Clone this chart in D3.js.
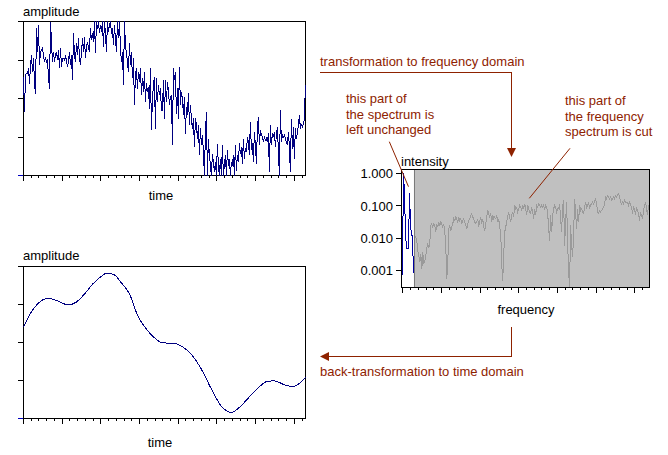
<!DOCTYPE html>
<html><head><meta charset="utf-8">
<script src="https://cdn.jsdelivr.net/npm/d3@7"></script>
<style>
body{margin:0;background:#fff;}
svg{display:block;font-family:"Liberation Sans",Arial,sans-serif;}
</style></head><body>
<svg id="c" width="668" height="455"></svg>
<script>
// ---------- data ----------
// noisy time signal (one sample per time step)
const noisyAmplitude = [
2.56,1.65,2.61,2.65,2.65,2.78,2.39,2.87,3.12,2.69,
3.04,2.39,2.13,3.82,3.21,3.92,2.87,3.21,3.25,3.30,
3.12,2.95,3.04,2.95,3.00,2.56,2.26,3.99,3.47,2.95,
3.21,2.95,3.12,3.21,3.00,3.25,2.78,3.30,2.82,3.04,
3.04,3.00,3.08,3.00,2.82,2.95,3.21,2.87,3.12,2.48,
3.69,3.12,2.95,3.43,3.12,3.56,3.04,2.87,3.21,3.56,
3.21,3.60,3.04,3.34,3.47,3.30,3.25,3.82,3.51,
3.69,3.47,4.00,3.17,4.00,3.82,4.00,3.69,3.90,3.73,
4.00,3.34,4.00,3.69,3.21,4.00,3.73,3.90,4.00,3.69,
3.82,3.39,3.90,3.56,3.21,4.00,3.56,4.00,3.30,2.95,
3.21,2.35,4.00,3.34,3.21,2.95,2.69,3.43,2.87,3.21,
2.52,3.04,1.83,2.61,2.78,2.26,2.69,2.43,2.78,2.09,
2.52,2.17,2.69,1.91,2.39,2.17,2.30,1.74,2.78,1.18,
2.00,2.35,2.56,1.22,2.52,1.91,2.35,2.09,2.26,1.70,
1.70,2.48,1.48,2.48,1.91,2.43,2.22,1.83,2.04,2.09,
0.79,2.78,2.48,2.69,1.61,2.26,1.48,2.82,1.83,2.17,
2.00,1.57,2.04,1.09,1.78,1.57,2.13,1.31,1.83,1.48,
1.22,1.48,0.74,1.48,1.31,0.96,1.31,0.53,1.22,0.79,
1.05,0.61,0.00,1.09,1.65,0.00,0.96,0.53,0.26,0.00,
0.57,0.35,0.09,0.35,0.00,0.83,0.26,0.00,0.44,0.00,
0.79,0.00,0.26,0.53,0.00,0.66,0.26,0.44,0.00,0.35,
0.26,0.53,0.00,0.79,0.13,0.53,0.35,0.83,0.57,0.74,
0.31,0.96,0.44,0.70,0.61,1.00,0.87,0.53,1.39,0.66,
0.83,0.35,1.13,0.79,0.31,1.22,1.52,0.79,1.18,1.05,
1.00,0.87,1.00,0.92,0.96,0.87,1.09,0.09,1.31,0.79,
1.09,1.00,1.13,0.74,1.05,1.26,0.66,0.00,1.70,0.87,
1.05,1.00,1.05,0.96,0.87,0.79,1.13,0.74,0.09,1.48,
0.70,1.26,0.44,1.22,0.96,1.09,1.31,1.57,1.22,1.31,
1.26,1.35,1.44,2.35
];
const timeStep = 1 / 38.7;
const timeMax = 7.29;

// smoothed (back-transformed) signal
const smoothTime = [0,0.20,0.37,0.59,0.71,0.89,1.15,1.36,1.58,1.79,2.01,2.16,2.35,2.52,2.74,2.95,3.17,3.39,3.60,3.90,4.12,4.33,4.59,4.85,5.11,5.37,5.62,5.84,6.06,6.31,6.49,6.74,6.96,7.13,7.29];
const smoothAmplitude = [2.40,2.80,3.02,3.15,3.15,3.09,2.99,3.06,3.28,3.54,3.74,3.83,3.78,3.58,3.28,2.71,2.36,2.12,1.99,1.98,1.88,1.70,1.31,0.79,0.33,0.16,0.33,0.57,0.80,0.98,0.99,0.89,0.84,0.92,1.08];

// spectrum: kept low-frequency part and cut part
const freqStep = 1 / 38.7;
const keptStart = -0.034;
const keptSpectrum = [0.00025,0.0019,1.0,0.245,0.015,0.0048,0.0048,0.0048,0.245,0.029,0.012,0.012,0.00085];
const cutStart = 0.31;
const cutSpectrum = [
0.012,0.0107,0.0085,0.0042,0.0029,0.0018,0.0033,0.0011,0.0037,0.0016,
0.0020,0.0029,0.0052,0.0068,0.0052,0.0068,0.025,0.028,0.022,0.028,
0.025,0.0155,0.028,0.022,0.032,0.025,0.032,0.028,0.022,0.028,
0.017,0.0059,0.00055,0.0016,0.0195,0.025,0.017,0.022,0.028,0.040,
0.035,0.045,0.040,0.032,0.045,0.035,0.040,0.028,0.035,0.040,
0.032,0.025,0.0195,0.028,0.035,0.040,0.051,0.058,0.045,0.040,
0.032,0.028,0.032,0.040,0.022,0.035,0.045,0.028,0.040,0.022,
0.017,0.028,0.045,0.072,0.058,0.045,0.058,0.032,0.051,0.040,
0.045,0.040,0.051,0.032,0.040,0.022,0.0155,0.0016,0.00049,0.0029,
0.0155,0.022,0.032,0.045,0.065,0.045,0.032,0.051,0.065,0.045,
0.105,0.081,0.091,0.065,0.081,0.105,0.091,0.072,0.105,0.081,0.117,
0.081,0.051,0.105,0.081,0.065,0.058,0.091,0.065,0.040,0.081,
0.051,0.105,0.091,0.117,0.105,0.091,0.105,0.091,0.105,0.081,
0.105,0.091,0.065,0.0195,0.0085,0.051,0.0155,0.051,0.081,0.105,
0.091,0.065,0.081,0.081,0.117,0.040,0.0155,0.091,0.148,0.0059,
0.032,0.132,0.0076,0.00089,0.0003,0.025,0.0059,0.0026,0.012,0.167,
0.065,0.0195,0.081,0.032,0.105,0.072,0.081,0.065,0.058,0.091,
0.132,0.091,0.105,0.132,0.081,0.105,0.117,0.132,0.105,0.148,
0.167,0.117,0.065,0.058,0.072,0.065,0.072,0.081,0.091,0.117,
0.19,0.167,0.21,0.19,0.167,0.19,0.148,0.167,0.19,0.167,
0.21,0.19,0.21,0.24,0.19,0.132,0.117,0.132,0.117,0.148,
0.132,0.132,0.132,0.105,0.132,0.117,0.081,0.065,0.091,0.081,
0.051,0.091,0.072,0.058,0.035,0.065,0.051,0.040,0.072,0.105,
0.132,0.081,0.051,0.105,0.105
];
const cutoffFreq = 0.30;
const freqMin = -0.034, freqMax = 6.382;
const intensityTicks = [1, 0.1, 0.01, 0.001];
const intensityTickLabels = ["1.000", "0.100", "0.010", "0.001"];

const texts = {
  amplitude: "amplitude", time: "time", intensity: "intensity", frequency: "frequency",
  forward: "transformation to frequency domain",
  back: "back-transformation to time domain",
  leftNote: ["this part of", "the spectrum is", "left unchanged"],
  rightNote: ["this part of", "the frequency", "spectrum is cut"]
};

// ---------- drawing ----------
const svg = d3.select("#c");
const NAVY = "#000080", NOTE = "#8e2200";

function timeAxes(g, x, y, L, R, T, B) {
  g.append("g").attr("transform", `translate(0,${B})`)
    .call(d3.axisBottom(x).tickValues(d3.range(0, 8, 1)).tickSize(6).tickFormat(""))
    .call(a => a.select(".domain").remove());
  g.append("g").attr("transform", `translate(0,${B})`)
    .call(d3.axisBottom(x).tickValues(d3.range(0.2, 7.25, 0.2).filter(v => Math.abs(v - Math.round(v)) > 0.01)).tickSize(3).tickFormat(""))
    .call(a => a.select(".domain").remove());
  const ya = g.append("g").attr("transform", `translate(${L},0)`)
    .call(d3.axisLeft(y).tickValues([0, 1, 2, 3, 4]).tickSize(5).tickFormat(""));
  ya.select(".domain").remove();
  ya.selectAll(".tick line").filter(d => d === 0).attr("stroke", "#0000c0");
  g.append("rect").attr("x", L + 0.5).attr("y", T + 0.5).attr("width", R - L).attr("height", B - T)
    .attr("fill", "none").attr("stroke", "#000");
  g.selectAll("line,path").attr("shape-rendering", "crispEdges");
}

// --- top chart: noisy signal
{
  const L = 23, R = 305, T = 21, B = 175;
  const x = d3.scaleLinear().domain([0, timeMax]).range([L, R]);
  const y = d3.scaleLinear().domain([0, 4]).range([B, T]);
  const g = svg.append("g");
  timeAxes(g, x, y, L, R, T, B);
  g.append("path").datum(noisyAmplitude)
    .attr("d", d3.line().x((d, i) => x(i * timeStep)).y(d => y(d)))
    .attr("fill", "none").attr("stroke", NAVY).attr("stroke-width", 1)
    .attr("transform", "translate(0.5,0.5)").attr("shape-rendering", "crispEdges");
  g.append("text").attr("x", L).attr("y", 16).attr("font-size", 13).text(texts.amplitude);
  g.append("text").attr("x", 161).attr("y", 200).attr("font-size", 13).attr("text-anchor", "middle").text(texts.time);
}

// --- bottom chart: smoothed signal
{
  const L = 23, R = 305, T = 266, B = 418;
  const x = d3.scaleLinear().domain([0, timeMax]).range([L, R]);
  const y = d3.scaleLinear().domain([0, 4]).range([B, T]);
  const g = svg.append("g");
  timeAxes(g, x, y, L, R, T, B);
  g.append("path").datum(smoothTime.map((t, i) => [t, smoothAmplitude[i]]))
    .attr("d", d3.line().x(d => x(d[0])).y(d => y(d[1])).curve(d3.curveMonotoneX))
    .attr("fill", "none").attr("stroke", NAVY).attr("stroke-width", 1)
    .attr("transform", "translate(0.5,0.5)").attr("shape-rendering", "crispEdges");
  g.append("text").attr("x", L).attr("y", 260).attr("font-size", 13).text(texts.amplitude);
  g.append("text").attr("x", 160).attr("y", 447).attr("font-size", 13).attr("text-anchor", "middle").text(texts.time);
}

// --- spectrum chart
{
  const L = 401, R = 649, T = 169, B = 287;
  const x = d3.scaleLinear().domain([freqMin, freqMax]).range([L, R]);
  const y = d3.scaleLog().domain([0.000303, 1.33]).range([B, T]);
  const g = svg.append("g");
  svg.append("defs").append("clipPath").attr("id", "spc")
    .append("rect").attr("x", L).attr("y", T).attr("width", R - L + 1).attr("height", B - T + 1);
  g.append("rect").attr("x", x(cutoffFreq)).attr("y", T).attr("width", R - x(cutoffFreq)).attr("height", B - T)
    .attr("fill", "#c0c0c0");
  g.append("line").attr("x1", Math.round(x(cutoffFreq)) + 0.5).attr("x2", Math.round(x(cutoffFreq)) + 0.5)
    .attr("y1", T).attr("y2", B).attr("stroke", "#7a7a7a").attr("shape-rendering", "crispEdges");
  const pg = g.append("g").attr("clip-path", "url(#spc)");
  pg.append("path").datum(cutSpectrum)
    .attr("d", d3.line().x((d, i) => x(cutStart + i * freqStep)).y(d => y(d)))
    .attr("fill", "none").attr("stroke", "#9a9a9a").attr("transform", "translate(0.5,0.5)").attr("shape-rendering", "crispEdges");
  pg.append("path").datum(keptSpectrum)
    .attr("d", d3.line().x((d, i) => x(keptStart + i * freqStep)).y(d => y(d)))
    .attr("fill", "none").attr("stroke", "#0000a0").attr("transform", "translate(0.5,0.5)").attr("shape-rendering", "crispEdges");
  g.append("g").attr("transform", `translate(0,${B})`)
    .call(d3.axisBottom(x).tickValues(d3.range(0, 7, 1)).tickSize(6).tickFormat(""))
    .call(a => a.select(".domain").remove());
  g.append("g").attr("transform", `translate(0,${B})`)
    .call(d3.axisBottom(x).tickValues(d3.range(0.2, 6.25, 0.2).filter(v => Math.abs(v - Math.round(v)) > 0.01)).tickSize(3).tickFormat(""))
    .call(a => a.select(".domain").remove());
  g.append("g").attr("transform", `translate(${L},0)`)
    .call(d3.axisLeft(y).tickValues(intensityTicks).tickSize(5).tickFormat((d, i) => intensityTickLabels[i]))
    .call(a => a.select(".domain").remove())
    .call(a => a.selectAll("text").attr("font-size", 13).attr("font-family", "Liberation Sans, Arial, sans-serif").attr("fill", "#000").attr("x", -8).attr("dy", "0.36em"));
  g.append("rect").attr("x", L + 0.5).attr("y", T + 0.5).attr("width", R - L).attr("height", B - T)
    .attr("fill", "none").attr("stroke", "#000");
  g.selectAll("line").attr("shape-rendering", "crispEdges");
  g.append("text").attr("x", L).attr("y", 166).attr("font-size", 13).text(texts.intensity);
  g.append("text").attr("x", 526).attr("y", 314).attr("font-size", 13).attr("text-anchor", "middle").text(texts.frequency);
}

// --- annotations
{
  const g = svg.append("g").attr("fill", NOTE).attr("font-size", 13);
  g.append("text").attr("x", 320).attr("y", 66).text(texts.forward);
  g.append("path").attr("d", "M320,72.5H511.5V149").attr("fill", "none").attr("stroke", NOTE).attr("shape-rendering", "crispEdges");
  g.append("path").attr("d", "M507,148L516,148L511.5,157Z").attr("fill", NOTE);

  texts.leftNote.forEach((t, i) => g.append("text").attr("x", 346).attr("y", 103 + i * 15.5).text(t));
  texts.rightNote.forEach((t, i) => g.append("text").attr("x", 565).attr("y", 105 + i * 15.5).text(t));
  g.append("line").attr("x1", 389.3).attr("y1", 141.7).attr("x2", 408.5).attr("y2", 186.7).attr("stroke", NOTE);
  g.append("line").attr("x1", 570).attr("y1", 148.3).attr("x2", 529.3).attr("y2", 198.3).attr("stroke", NOTE);

  g.append("path").attr("d", "M511.5,327V356.5H328").attr("fill", "none").attr("stroke", NOTE).attr("shape-rendering", "crispEdges");
  g.append("path").attr("d", "M329,352L329,361L320,356.5Z").attr("fill", NOTE);
  g.append("text").attr("x", 320).attr("y", 376).text(texts.back);
}
</script>
</body></html>
